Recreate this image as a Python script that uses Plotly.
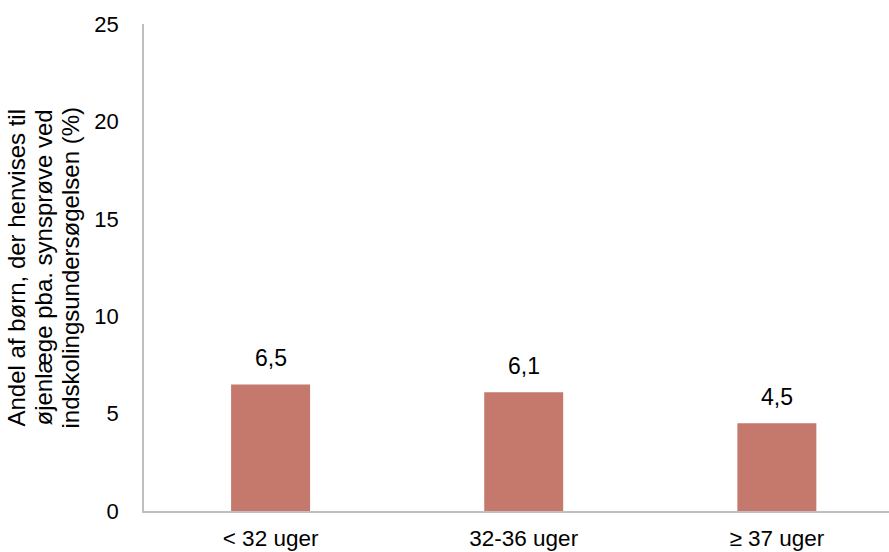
import plotly.graph_objects as go

categories = ["< 32 uger", "32-36 uger", "≥ 37 uger"]
values = [6.5, 6.1, 4.5]
value_labels = ["6,5", "6,1", "4,5"]
y_ticks = [0, 5, 10, 15, 20, 25]
y_title_lines = [
    "Andel af børn, der henvises til",
    "øjenlæge pba. synsprøve ved",
    "indskolingsundersøgelsen (%)",
]

font_family = "Liberation Sans, Arial, sans-serif"

fig = go.Figure(go.Bar(
    x=categories,
    y=values,
    width=0.312,
    marker=dict(color="#C5796D", line=dict(width=0)),
))

for cat, val, lab in zip(categories, values, value_labels):
    fig.add_annotation(
        x=cat, y=val, text=lab, showarrow=False,
        yanchor="bottom", yshift=11,
        font=dict(family=font_family, size=23, color="#000000"),
    )

# rotated y-axis title, one annotation per line for tight line spacing
line_centers = [-128, -101, -74]
for line, xs in zip(y_title_lines, line_centers):
    fig.add_annotation(
        xref="paper", yref="paper", x=0, y=0.5, xshift=xs,
        text=line, showarrow=False, textangle=-90,
        xanchor="center", yanchor="middle",
        font=dict(family=font_family, size=24, color="#000000"),
    )

fig.update_layout(
    width=889, height=552,
    margin=dict(l=144, r=0, t=24, b=41),
    paper_bgcolor="white", plot_bgcolor="white",
    showlegend=False,
    font=dict(family=font_family, size=22, color="#000000"),
)
fig.update_xaxes(
    range=[-0.5, 2.443],
    showline=True, linecolor="#BFBFBF", linewidth=1.5,
    showgrid=False, zeroline=False,
    ticks="", ticklabelstandoff=6,
    tickfont=dict(size=22.5),
    automargin=False,
)
fig.update_yaxes(
    range=[0, 25],
    tickvals=y_ticks,
    showline=True, linecolor="#BFBFBF", linewidth=1.5,
    showgrid=False, zeroline=False,
    ticks="", ticklabelstandoff=19,
    tickfont=dict(size=22),
    automargin=False,
)

fig.write_html("out.html")
